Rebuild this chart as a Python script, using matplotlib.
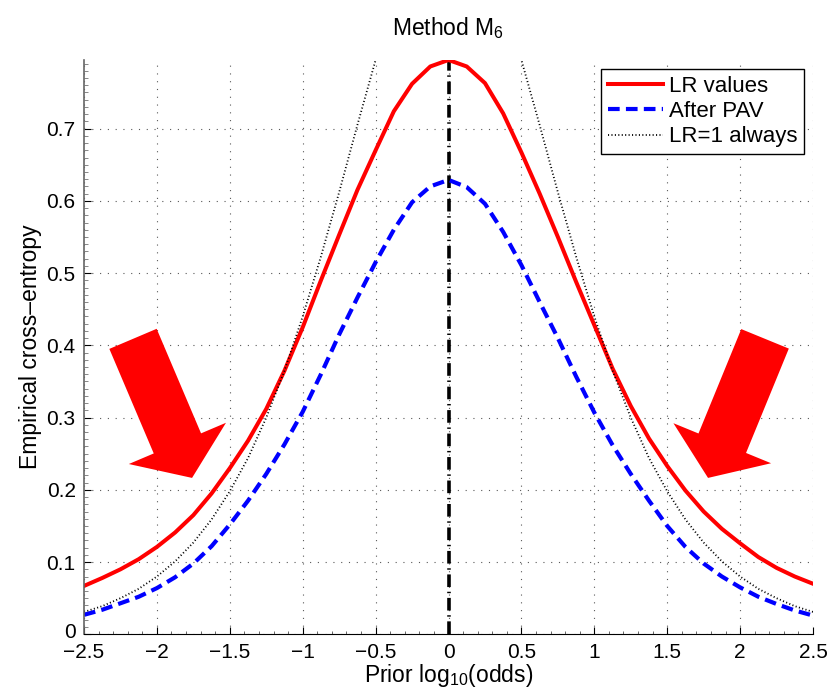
import matplotlib
matplotlib.use("Agg")
import matplotlib.pyplot as plt
from matplotlib.ticker import MultipleLocator
from matplotlib.transforms import ScaledTranslation

plt.rcParams['font.family'] = ['Liberation Sans', 'DejaVu Sans']
plt.rcParams['mathtext.fontset'] = 'custom'
plt.rcParams['mathtext.rm'] = 'Liberation Sans'
plt.rcParams['mathtext.it'] = 'Liberation Sans:italic'

# prior log10(odds)
prior = [-2.5, -2.375, -2.25, -2.125, -2.0, -1.875, -1.75, -1.625, -1.5, -1.375, -1.25, -1.125,
         -1.0, -0.875, -0.75, -0.625, -0.5, -0.375, -0.25, -0.125, 0.0,
         0.125, 0.25, 0.375, 0.5, 0.625, 0.75, 0.875, 1.0, 1.125, 1.25, 1.375,
         1.5, 1.625, 1.75, 1.875, 2.0, 2.125, 2.25, 2.375, 2.5]

# empirical cross-entropy
lr_values = [0.067, 0.078, 0.090, 0.104, 0.121, 0.141, 0.165, 0.195, 0.230, 0.268, 0.312, 0.365,
             0.425, 0.490, 0.553, 0.615, 0.670, 0.724, 0.762, 0.786, 0.795,
             0.786, 0.763, 0.721, 0.667, 0.610, 0.550, 0.488, 0.428, 0.368, 0.316, 0.271,
             0.233, 0.199, 0.170, 0.146, 0.126, 0.107, 0.092, 0.080, 0.070]
after_pav = [0.027, 0.034, 0.043, 0.052, 0.064, 0.079, 0.098, 0.122, 0.152, 0.185, 0.222, 0.263,
             0.308, 0.360, 0.415, 0.466, 0.515, 0.560, 0.598, 0.620, 0.629,
             0.619, 0.596, 0.557, 0.511, 0.460, 0.410, 0.357, 0.307, 0.262, 0.222, 0.185,
             0.150, 0.121, 0.098, 0.080, 0.065, 0.052, 0.042, 0.033, 0.026]
lr_one = [0.031, 0.039, 0.050, 0.063, 0.080, 0.101, 0.127, 0.159, 0.198, 0.244, 0.300, 0.365,
          0.440, 0.523, 0.612, 0.705, 0.795, 0.877, 0.943, 0.985, 1.0,
          0.985, 0.943, 0.877, 0.795, 0.705, 0.612, 0.523, 0.440, 0.365, 0.300, 0.244,
          0.198, 0.159, 0.127, 0.101, 0.080, 0.063, 0.050, 0.039, 0.031]

xticks = [-2.5, -2, -1.5, -1, -0.5, 0, 0.5, 1, 1.5, 2, 2.5]
xticklabels = ['\u22122.5', '\u22122', '\u22121.5', '\u22121', '\u22120.5', '0', '0.5', '1', '1.5', '2', '2.5']
yticks = [0, 0.1, 0.2, 0.3, 0.4, 0.5, 0.6, 0.7]
yticklabels = ['0', '0.1', '0.2', '0.3', '0.4', '0.5', '0.6', '0.7']

# big red arrows (tail -> tip) pointing at the curves
arrow_tails = [(-2.164, 0.409), (2.171, 0.409)]
arrow_tips = [(-1.759, 0.2165), (1.780, 0.2165)]

fig = plt.figure(figsize=(8.36, 6.95), dpi=100)
ax = fig.add_axes([0.1005, 0.0873, 0.872, 0.8264])

ax.grid(True, color='0.35', linestyle=(0, (1, 6)), linewidth=0.8)
ax.set_axisbelow(True)

ax.axvline(0, color='black', linewidth=2.6, dashes=(3.5, 1.3, 0.4, 1.3))
ax.plot(prior, lr_values, color='#ff0000', linewidth=2.9, label='LR values')
ax.plot(prior, after_pav, color='#0000ff', linewidth=3.0, dashes=(2.8, 1.5), label='After PAV')
ax.plot(prior, lr_one, color='black', linewidth=1.3, dashes=(0.6, 1.3), label='LR=1 always')

for tail, tip in zip(arrow_tails, arrow_tips):
    ax.annotate('', xy=tip, xytext=tail,
                arrowprops=dict(arrowstyle='simple,head_length=2.7,head_width=7.6,tail_width=3.7',
                                mutation_scale=10, color='#ff0000', lw=0,
                                shrinkA=0, shrinkB=0))

ax.set_xlim(-2.5, 2.5)
ax.set_ylim(0, max(lr_values))
ax.set_xticks(xticks)
ax.set_xticklabels(xticklabels)
ax.set_yticks(yticks)
ax.set_yticklabels(yticklabels)
ax.yaxis.set_minor_locator(MultipleLocator(0.01))
ax.xaxis.set_minor_locator(MultipleLocator(0.1))

ax.tick_params(axis='both', which='major', direction='in', length=5, labelsize=15)
ax.tick_params(axis='x', which='major', pad=6.5)
ax.tick_params(axis='y', which='major', pad=6)
ax.tick_params(axis='y', which='minor', direction='in', length=3, color='0.45')
ax.tick_params(axis='x', which='minor', direction='in', length=2, color='0.3')

# nudge the "0" label up a little so it doesn't collide with "-2.5"
zero_lbl = ax.get_yticklabels()[0]
zero_lbl.set_transform(zero_lbl.get_transform() + ScaledTranslation(0, 3 / 72, fig.dpi_scale_trans))

for side in ['top', 'right']:
    ax.spines[side].set_visible(False)
ax.spines['left'].set_color('0.4')
ax.spines['left'].set_linewidth(1.2)

ax.set_title('Method M$_6$', fontsize=16.5, pad=18)
ax.set_xlabel('Prior log$_{10}$(odds)', fontsize=16.5, labelpad=0)
ax.set_ylabel('Empirical cross\u2013entropy', fontsize=16.5, labelpad=3)

leg = ax.legend(loc='upper right', fontsize=16, frameon=True, fancybox=False,
                edgecolor='black', framealpha=1, borderaxespad=0.4,
                handlelength=2.5, handletextpad=0.25, labelspacing=0.2, borderpad=0.3)
leg.get_frame().set_linewidth(1.0)

fig.savefig('out.png', dpi=100)
